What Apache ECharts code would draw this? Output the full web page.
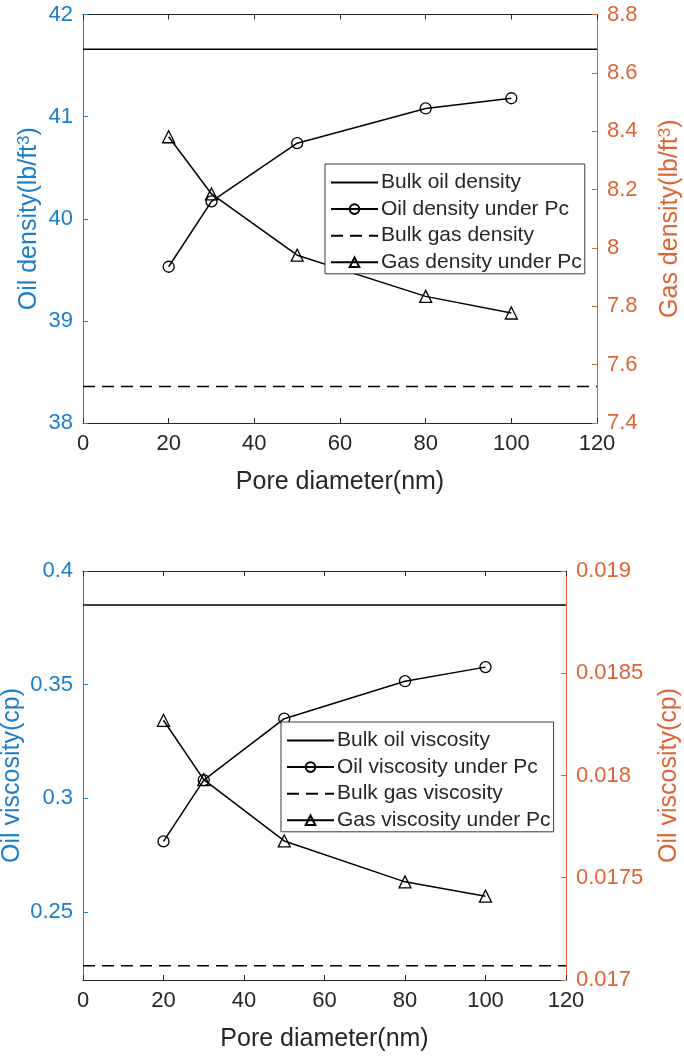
<!DOCTYPE html>
<html>
<head>
<meta charset="utf-8">
<script src="https://cdn.jsdelivr.net/npm/echarts@6/dist/echarts.min.js"></script>
<style>
  html, body { margin: 0; padding: 0; background: #fff; }
  #chart { width: 684px; height: 1057px; }
</style>
</head>
<body>
<div id="chart"></div>
<script>
// Pore diameter (nm) of the sampled cases
const poreDiameter = [20, 30, 50, 80, 100];

// Density panel
const oilDensityPc = [39.53, 40.17, 40.74, 41.08, 41.18];   // lb/ft3, left axis
const gasDensityPc = [8.381, 8.185, 7.975, 7.834, 7.777];   // lb/ft3, right axis
const bulkOilDensity = 41.66;
const bulkGasDensity = 7.525;

// Viscosity panel
const oilViscosityPc = [0.281, 0.308, 0.335, 0.3515, 0.3577]; // cp, left axis
const gasViscosityPc = [0.01827, 0.01798, 0.01768, 0.01748, 0.01741]; // cp, right axis
const bulkOilViscosity = 0.385;
const bulkGasViscosity = 0.01707;

// Axis ranges and ticks
const xRange = [0, 120];
const xTickStep = 20;
const densityLeftTicks = [38, 42, 1];
const densityRightTicks = [7.4, 8.8, 0.2];
const viscLeftRange = [0.22, 0.4];
const viscLeftTicks = [0.25, 0.3, 0.35, 0.4];
const viscRightTicks = [0.017, 0.019, 0.0005];

const FONT = 'Liberation Sans';
const BLUE = '#1a7ec8';
const ORANGE = '#dd6432';
const DARK = '#262626';

const pairs = (xs, ys) => xs.map((x, i) => [x, ys[i]]);
const flat = (v) => [[xRange[0], v], [xRange[1], v]];

function xAxes(gridIndex) {
  const base = {
    type: 'value', gridIndex, min: xRange[0], max: xRange[1], interval: xTickStep,
    splitLine: { show: false },
    axisLine: { show: true, onZero: false, lineStyle: { color: DARK, width: 1 } },
    axisTick: { show: true, inside: true, length: 5, lineStyle: { color: DARK } }
  };
  return [
    Object.assign({}, base, {
      position: 'bottom',
      axisLabel: { color: DARK, fontSize: 22, fontFamily: FONT, margin: 10 },
      name: 'Pore diameter(nm)', nameLocation: 'middle', nameGap: 47, nameMoveOverlap: false,
      nameTextStyle: { color: DARK, fontSize: 25, fontFamily: FONT }
    }),
    Object.assign({}, base, { position: 'top', axisLabel: { show: false } })
  ];
}

function yAxis(gridIndex, side, color, name, nameGap, extra) {
  return Object.assign({
    type: 'value', gridIndex, position: side,
    splitLine: { show: false },
    axisLine: { show: true, onZero: false, lineStyle: { color, width: 1 } },
    axisTick: { show: true, inside: true, length: 5, lineStyle: { color } },
    axisLabel: { color, fontSize: 22, fontFamily: FONT, margin: 10 },
    name, nameLocation: 'middle', nameGap, nameMoveOverlap: false,
    nameTextStyle: {
      color, fontSize: 25, fontFamily: FONT,
      rich: { sup: { fontSize: 17, verticalAlign: 'top', color, fontFamily: FONT, padding: [0, 0, 10, 0] } }
    }
  }, extra);
}

const markerLine = { color: '#000', width: 1.5 };
const hollow = { color: 'transparent', borderColor: '#000', borderWidth: 1.3 };
const noMark = { color: 'transparent', borderColor: 'transparent', borderWidth: 0 };

function bulkSeries(name, xi, yi, value, dashed) {
  return {
    name, type: 'line', xAxisIndex: xi, yAxisIndex: yi,
    data: flat(value), symbol: 'circle', symbolSize: 1, showSymbol: false, silent: true,
    lineStyle: { color: '#000', width: 1.5, type: dashed ? [12, 7] : 'solid' },
    itemStyle: noMark
  };
}
function pcSeries(name, xi, yi, ys, symbol) {
  return {
    name, type: 'line', xAxisIndex: xi, yAxisIndex: yi,
    data: pairs(poreDiameter, ys), symbol, symbolSize: symbol === 'circle' ? 11 : 12,
    lineStyle: markerLine, itemStyle: hollow
  };
}

const legendCommon = {
  orient: 'vertical', itemWidth: 47, itemHeight: 12, itemGap: 5.6,
  padding: [8, 3, 1, 5], backgroundColor: '#fff',
  borderColor: '#3a3a3a', borderWidth: 1, borderRadius: 0,
  textStyle: { color: DARK, fontSize: 21, fontFamily: FONT, lineHeight: 20, padding: [0, 0, 0, -2] },
  selectedMode: false
};

const option = {
  animation: false,
  backgroundColor: '#fff',
  grid: [
    { left: 83, top: 14.5, width: 514, height: 408.5, outerBoundsMode: 'none', containLabel: false },
    { left: 83, top: 571, width: 483, height: 409, outerBoundsMode: 'none', containLabel: false }
  ],
  xAxis: [...xAxes(0), ...xAxes(1)],
  yAxis: [
    yAxis(0, 'left', BLUE, 'Oil density(lb/ft{sup|3})', 40,
      { min: densityLeftTicks[0], max: densityLeftTicks[1], interval: densityLeftTicks[2] }),
    yAxis(0, 'right', ORANGE, 'Gas density(lb/ft{sup|3})', 60,
      { min: densityRightTicks[0], max: densityRightTicks[1], interval: densityRightTicks[2] }),
    yAxis(1, 'left', BLUE, 'Oil viscosity(cp)', 58,
      { min: viscLeftRange[0], max: viscLeftRange[1],
        axisLabel: { color: BLUE, fontSize: 22, fontFamily: FONT, margin: 10, customValues: viscLeftTicks },
        axisTick: { show: true, inside: true, length: 5, lineStyle: { color: BLUE }, customValues: viscLeftTicks } }),
    yAxis(1, 'right', ORANGE, 'Oil viscosity(cp)', 91,
      { min: viscRightTicks[0], max: viscRightTicks[1], interval: viscRightTicks[2] })
  ],
  legend: [
    Object.assign({}, legendCommon, {
      left: 325, top: 164,
      data: ['Bulk oil density', 'Oil density under Pc', 'Bulk gas density', 'Gas density under Pc']
    }),
    Object.assign({}, legendCommon, {
      left: 281, top: 722,
      data: ['Bulk oil viscosity', 'Oil viscosity under Pc', 'Bulk gas viscosity', 'Gas viscosity under Pc']
    })
  ],
  series: [
    bulkSeries('Bulk oil density', 0, 0, bulkOilDensity, false),
    pcSeries('Oil density under Pc', 0, 0, oilDensityPc, 'circle'),
    bulkSeries('Bulk gas density', 0, 1, bulkGasDensity, true),
    pcSeries('Gas density under Pc', 0, 1, gasDensityPc, 'triangle'),
    bulkSeries('Bulk oil viscosity', 2, 2, bulkOilViscosity, false),
    pcSeries('Oil viscosity under Pc', 2, 2, oilViscosityPc, 'circle'),
    bulkSeries('Bulk gas viscosity', 2, 3, bulkGasViscosity, true),
    pcSeries('Gas viscosity under Pc', 2, 3, gasViscosityPc, 'triangle')
  ]
};

const chart = echarts.init(document.getElementById('chart'), null, { renderer: 'canvas' });
chart.setOption(option);
</script>
</body>
</html>
